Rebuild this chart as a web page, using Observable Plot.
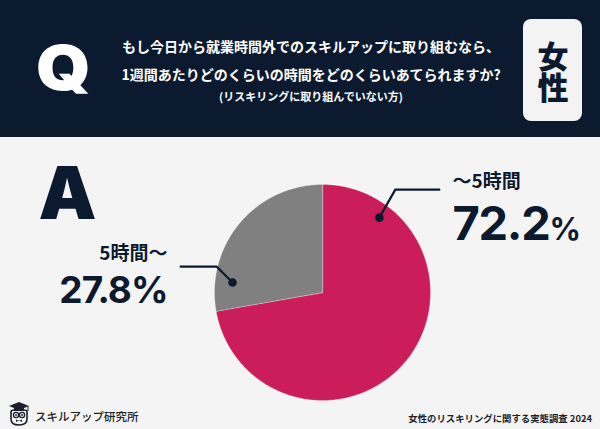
<!DOCTYPE html>
<html><head><meta charset="utf-8">
<script src="https://cdn.jsdelivr.net/npm/d3@7"></script>
<script src="https://cdn.jsdelivr.net/npm/@observablehq/plot@0.6"></script>
<style>
html,body{margin:0;padding:0;background:#f4f4f4;}
#page{position:relative;width:600px;height:429px;overflow:hidden;background:#f4f4f4;font-family:"Noto Sans CJK JP",sans-serif;}
#header{position:absolute;left:0;top:0;}
#chart{position:absolute;left:0;top:137px;}
#footer{position:absolute;left:0;top:395px;}
#g1{writing-mode:vertical-rl;}
</style>
</head><body>
<div id="page">
  <svg id="header" width="600" height="137">
    <rect x="0" y="0" width="600" height="137" fill="#0c1a2f"/>
    <text transform="translate(36,90) scale(1.12,1)" fill="#fff" font-family="Inter" font-weight="900" font-size="62">Q</text>
    <g fill="#fff" font-family="Noto Sans CJK JP" font-weight="700" text-anchor="middle">
      <text id="q1" x="311" y="52" font-size="14"></text>
      <text id="q2" x="311" y="80" font-size="14"></text>
      <text id="q3" x="311" y="101" font-size="11"></text>
    </g>
    <rect x="523" y="19" width="59" height="102" rx="8" fill="#f3f3f3"/>
    <text id="g1" x="553" y="72" fill="#0c1a2f" font-family="Noto Sans CJK JP" font-weight="900" font-size="31" text-anchor="middle"></text>
  </svg>
  <div id="chart"></div>
  <svg id="footer" width="600" height="34">
    <g transform="translate(8,7)">
      <path d="M1,4 L11,0 L21,4 L11,8 Z" fill="#1a1f2b"/>
      <rect x="6" y="5" width="10" height="4" fill="#1a1f2b"/>
      <line x1="20" y1="4" x2="20" y2="9" stroke="#1a1f2b" stroke-width="1"/>
      <path d="M3,10 Q3,8 6,8 L16,8 Q19,8 19,10 L19,17 Q19,23 11,23 Q3,23 3,17 Z" fill="none" stroke="#1a1f2b" stroke-width="1.6"/>
      <circle cx="8" cy="13" r="2.6" fill="none" stroke="#1a1f2b" stroke-width="1.3"/>
      <circle cx="14" cy="13" r="2.6" fill="none" stroke="#1a1f2b" stroke-width="1.3"/>
      <circle cx="8" cy="13" r="0.9" fill="#1a1f2b"/>
      <circle cx="14" cy="13" r="0.9" fill="#1a1f2b"/>
      <path d="M8,20 L11,18.5 L14,20 L14,17.5 L11,19 L8,17.5 Z" fill="#1a1f2b"/>
    </g>
    <text id="brand" x="35" y="26" fill="#222" font-family="Noto Sans CJK JP" font-weight="500" font-size="11.5"></text>
    <text id="cap" x="592" y="27" text-anchor="end" fill="#1a1f2b" font-family="Noto Sans CJK JP" font-weight="700" font-size="9.4"></text>
  </svg>
</div>
<script>
// ---- data ----
const questionLines = ["もし今日から就業時間外でのスキルアップに取り組むなら、", "1週間あたりどのくらいの時間をどのくらいあてられますか?", "(リスキリングに取り組んでいない方)"];
const groupLabel = "女性";
const categories = ["～5時間", "5時間～"];
const shares = [72.2, 27.8];
const colors = ["#cb1d5a", "#808080"];
const brandText = "スキルアップ研究所";
const captionText = "女性のリスキリングに関する実態調査 2024";

// ---- header / footer texts ----
document.getElementById("q1").textContent = questionLines[0];
document.getElementById("q2").textContent = questionLines[1];
document.getElementById("q3").textContent = questionLines[2];
document.getElementById("g1").textContent = groupLabel;
document.getElementById("brand").textContent = brandText;
document.getElementById("cap").textContent = captionText;

// ---- layout (pixels in chart frame) ----
const W = 600, H = 292;
const pie = {cx: 322, cy: 155, r: 108};
const navy = "#0c1a2f";
const leaders = [
  {angle: 37.2, rad: 94, ex: 16, ey: -28, len: 44, labelX: 452, nameY: 50, valueY: 102, anchor: "start", nameSize: 19, valueSize: 47, pctSize: 31, pctX: 549, spacing: "-1.3px"},
  {angle: 276.3, rad: 90.5, ex: -16, ey: -16, len: -36, labelX: 167, nameY: 122, valueY: 165, anchor: "end", nameSize: 19, valueSize: 37, spacing: "-1px"}
];

// pie polygons from the shares
const total = d3.sum(shares);
let cum = 0;
const piePts = [];
shares.forEach((v, i) => {
  const a0 = cum / total * 360, a1 = (cum + v) / total * 360;
  cum += v;
  piePts.push({slice: categories[i], x: pie.cx, y: pie.cy});
  const n = Math.max(2, Math.ceil((a1 - a0) * 2));
  for (let k = 0; k <= n; k++) {
    const a = (a0 + (a1 - a0) * k / n) * Math.PI / 180;
    piePts.push({slice: categories[i], x: pie.cx + pie.r * Math.sin(a), y: pie.cy - pie.r * Math.cos(a)});
  }
});

const dots = [], leaderPts = [], nameTxt = [], valueTxt = [], pctTxt = [];
leaders.forEach((L, i) => {
  const a = L.angle * Math.PI / 180;
  const dx = pie.cx + L.rad * Math.sin(a), dy = pie.cy - L.rad * Math.cos(a);
  dots.push({x: dx, y: dy});
  leaderPts.push({s: i, x: dx, y: dy}, {s: i, x: dx + L.ex, y: dy + L.ey}, {s: i, x: dx + L.ex + L.len, y: dy + L.ey});
  nameTxt.push({x: L.labelX, y: L.nameY, t: categories[i], anchor: L.anchor, size: L.nameSize});
  if (L.pctX) {
    valueTxt.push({x: L.labelX, y: L.valueY, t: String(shares[i]), anchor: L.anchor, size: L.valueSize, spacing: L.spacing});
    pctTxt.push({x: L.pctX, y: L.valueY, t: "%", size: L.pctSize});
  } else {
    valueTxt.push({x: L.labelX, y: L.valueY, t: shares[i] + "%", anchor: L.anchor, size: L.valueSize, spacing: L.spacing});
  }
});

const chart = Plot.plot({
  width: W, height: H,
  margin: 0,
  x: {domain: [0, W], range: [0, W], axis: null},
  y: {domain: [0, H], range: [0, H], axis: null},
  color: {domain: categories, range: colors},
  style: {background: "transparent", overflow: "visible"},
  marks: [
    Plot.text(["A"], {x: () => 38, y: () => 81, text: d => d, lineAnchor: "bottom", textAnchor: "start", fontFamily: "Inter", fontWeight: 900, fontSize: 73, fill: navy}),
    Plot.line(piePts, {x: "x", y: "y", z: "slice", fill: "slice", stroke: "#f4f4f4", strokeWidth: 0.6, strokeOpacity: 0.5, curve: "linear-closed"}),
    Plot.line(leaderPts, {x: "x", y: "y", z: "s", stroke: navy, strokeWidth: 2.2, curve: "linear"}),
    Plot.dot(dots, {x: "x", y: "y", r: 4.3, fill: navy}),
    ...nameTxt.map(d => Plot.text([d], {x: "x", y: "y", text: "t", textAnchor: d.anchor, lineAnchor: "bottom", fontSize: d.size, fontWeight: 700, fontFamily: "Noto Sans CJK JP", fill: navy})),
    ...valueTxt.map(d => Plot.text([d], {x: "x", y: "y", text: "t", textAnchor: d.anchor, lineAnchor: "bottom", fontSize: d.size, fontWeight: 700, fontFamily: "Inter", fill: navy})),
    ...pctTxt.map(d => Plot.text([d], {x: "x", y: "y", text: "t", textAnchor: "start", lineAnchor: "bottom", fontSize: d.size, fontWeight: 700, fontFamily: "Inter", fill: navy}))
  ]
});
// tighten letter spacing of the big value labels
chart.querySelectorAll("text").forEach(t => {
  const v = valueTxt.find(d => d.t === t.textContent);
  if (v) t.style.letterSpacing = v.spacing;
});
document.getElementById("chart").appendChild(chart);
</script>
</body></html>
